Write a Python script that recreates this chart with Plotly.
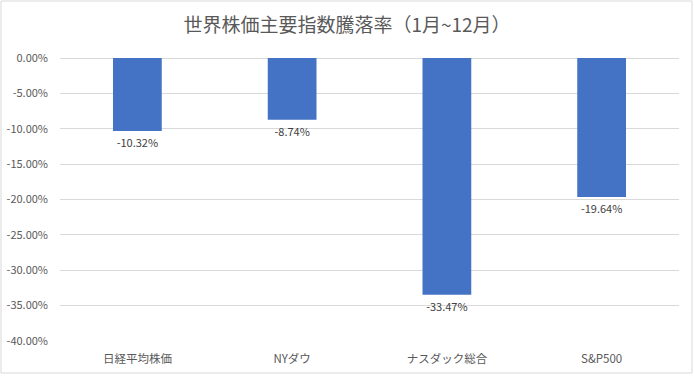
import plotly.graph_objects as go

categories = ["日経平均株価", "NYダウ", "ナスダック総合", "S&P500"]
values = [-10.32, -8.74, -33.47, -19.64]
tick_vals = [0, -5, -10, -15, -20, -25, -30, -35, -40]
tick_text = [f"{v:.2f}%" for v in tick_vals]
labels = [f"{v:.2f}%" for v in values]

font_family = "Noto Sans CJK JP, Noto Sans, sans-serif"

fig = go.Figure(go.Bar(
    x=categories, y=values,
    marker=dict(color="#4472C4", line=dict(width=0)),
    text=labels, textposition="outside",
    textfont=dict(size=11, color="#404040", family=font_family),
    cliponaxis=False,
))

L, R, T, B = 60, 15, 58, 37
PW, PH = 694 - L - R, 378 - T - B

fig.update_layout(
    width=694, height=378,
    margin=dict(l=L, r=R, t=T, b=B),
    paper_bgcolor="white", plot_bgcolor="white",
    bargap=0.685,
    showlegend=False,
    font=dict(family=font_family, color="#595959", size=11),
    title=dict(text="世界株価主要指数騰落率（1月~12月）", x=0.5, xanchor="center",
               y=1 - 25 / 378, yanchor="middle",
               font=dict(size=19, color="#595959", family=font_family)),
    xaxis=dict(showgrid=False, showline=False, ticks="", tickfont=dict(size=11.5, color="#595959"),
               ticklabelstandoff=9, automargin=False),
    yaxis=dict(range=[-40, 0], tickvals=tick_vals, ticktext=tick_text,
               showgrid=True, gridcolor="#D9D9D9", gridwidth=1, zeroline=True,
               zerolinecolor="#D9D9D9", zerolinewidth=1, showline=False,
               tickfont=dict(size=11, color="#595959"), ticks="", ticklabelstandoff=11,
               automargin=False),
    shapes=[dict(type="rect", xref="paper", yref="paper", x0=-(L - 1) / PW, x1=1 + (R - 2) / PW,
                 y0=-(B - 5) / PH, y1=1 + (T - 1) / PH, line=dict(color="#D9D9D9", width=1))],
)

fig.write_html("out.html", config={"displayModeBar": False, "staticPlot": True},
               post_script="document.body.style.margin='0';document.body.style.overflow='hidden';")
